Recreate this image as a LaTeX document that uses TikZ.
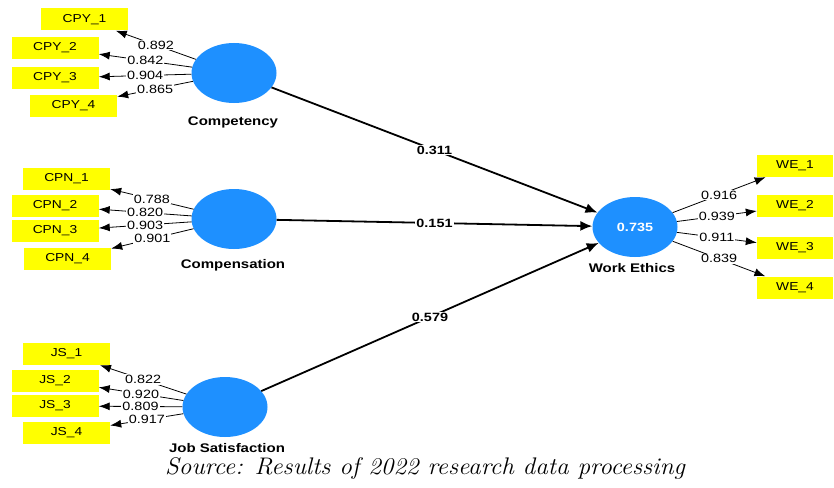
\documentclass[tikz,border=0pt]{standalone}
\usepackage{fontspec}
\newfontfamily\arialx[FakeStretch=1.2]{Liberation Sans}
\usetikzlibrary{shapes.geometric,arrows.meta}
\definecolor{lvblue}{RGB}{30,144,255}
\definecolor{mvyellow}{RGB}{255,255,0}
\begin{document}
\begin{tikzpicture}[x=1pt,y=-1pt,
 ind/.style={fill=mvyellow, minimum width=87pt, minimum height=22pt, inner sep=0pt, font=\arialx\fontsize{11.5}{12}\selectfont},
 indr/.style={ind, minimum width=76pt},
 lv/.style={ellipse, fill=lvblue, minimum width=85pt, minimum height=60pt, inner sep=0pt},
 lvname/.style={font=\arialx\bfseries\fontsize{12.5}{13}\selectfont},
 load/.style={-{Latex[length=11pt,width=8pt]}, line width=0.8pt},
 strpath/.style={-{Latex[length=12pt,width=10pt]}, line width=1.8pt},
 lval/.style={fill=white, inner sep=1pt, font=\arialx\fontsize{12}{12}\selectfont},
 pval/.style={fill=white, inner sep=1pt, font=\arialx\bfseries\fontsize{12}{12}\selectfont}]
\useasboundingbox (0,0) rectangle (834,487);
\fill[white] (0,0) rectangle (834,487);

% Competency
\node[ind] (cpy1) at (84.5,19.5) {CPY\_1};
\node[ind] (cpy2) at (55,48) {CPY\_2};
\node[ind] (cpy3) at (55,78) {CPY\_3};
\node[ind] (cpy4) at (73.5,105.5) {CPY\_4};
\node[lv] (cpy) at (234,73) {};
\node[lvname] (cpyn) at (233,122) {Competency};

% Compensation
\node[ind] (cpn1) at (66.5,178.5) {CPN\_1};
\node[ind] (cpn2) at (55,206) {CPN\_2};
\node[ind] (cpn3) at (55,231) {CPN\_3};
\node[ind] (cpn4) at (67.5,259) {CPN\_4};
\node[lv] (cpn) at (234,219) {};
\node[lvname] (cpnn) at (233,265) {Compensation};

% Job Satisfaction
\node[ind] (js1) at (66.5,354) {JS\_1};
\node[ind] (js2) at (55,380.5) {JS\_2};
\node[ind] (js3) at (55,406) {JS\_3};
\node[ind] (js4) at (66.5,432.5) {JS\_4};
\node[lv] (js) at (225,407) {};
\node[lvname] (jsn) at (227,448) {Job Satisfaction};

% Work Ethics
\node[lv, text=white, font=\arialx\bfseries\fontsize{12}{12}\selectfont] (we) at (635,227) {0.735};
\node[lvname] (wen) at (632,268) {Work Ethics};
\node[indr] (we1) at (795,166) {WE\_1};
\node[indr] (we2) at (795,206) {WE\_2};
\node[indr] (we3) at (795,247.5) {WE\_3};
\node[indr] (we4) at (795,287.5) {WE\_4};

% loadings
\draw[load] (cpy) -- node[lval]{0.892} (cpy1);
\draw[load] (cpy) -- node[lval]{0.842} (cpy2);
\draw[load] (cpy) -- node[lval]{0.904} (cpy3);
\draw[load] (cpy) -- node[lval]{0.865} (cpy4);

\draw[load] (cpn) -- node[lval]{0.788} (cpn1);
\draw[load] (cpn) -- node[lval]{0.820} (cpn2);
\draw[load] (cpn) -- node[lval]{0.903} (cpn3);
\draw[load] (cpn) -- node[lval]{0.901} (cpn4);

\draw[load] (js) -- node[lval]{0.822} (js1);
\draw[load] (js) -- node[lval]{0.920} (js2);
\draw[load] (js) -- node[lval]{0.809} (js3);
\draw[load] (js) -- node[lval]{0.917} (js4);

\draw[load] (we) -- node[lval]{0.916} (we1);
\draw[load] (we) -- node[lval]{0.939} (we2);
\draw[load] (we) -- node[lval]{0.911} (we3);
\draw[load] (we) -- node[lval]{0.839} (we4);

% structural paths
\draw[strpath] (cpy) -- node[pval]{0.311} (we);
\draw[strpath] (cpn) -- node[pval]{0.151} (we);
\draw[strpath] (js) -- node[pval]{0.579} (we);

\node[font=\itshape\fontsize{24}{26}\selectfont] (cap) at (425,468) {\scalebox{1.05}[1]{Source: Results of 2022 research data processing}};
\end{tikzpicture}
\end{document}
